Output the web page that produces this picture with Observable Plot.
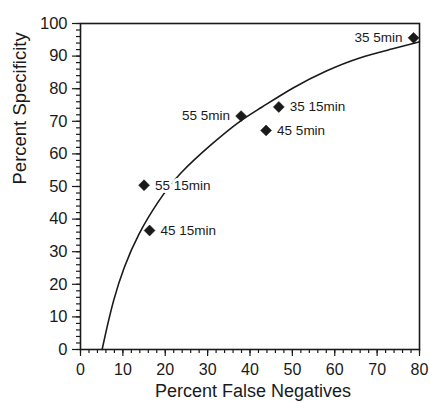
<!DOCTYPE html>
<html>
<head>
<meta charset="utf-8">
<script src="https://cdn.jsdelivr.net/npm/d3@7"></script>
<script src="https://cdn.jsdelivr.net/npm/@observablehq/plot@0.6"></script>
<style>
  html, body { margin: 0; padding: 0; background: #fff; }
</style>
</head>
<body>
<div id="chart"></div>
<script>
// Data points (diamonds)
const labels = ["55 15min", "45 15min", "55 5min", "35 15min", "45 5min", "35 5min"];
const falseNeg = [15, 16.3, 37.9, 46.8, 43.8, 78.6];
const specificity = [50.4, 36.5, 71.6, 74.4, 67.2, 95.6];
const labelSide = ["right", "right", "left", "right", "right", "left"];

// Fitted curve
const curveX = [5.1, 5.9, 7.7, 10.2, 13.6, 18.4, 23.1, 31.4, 37.6, 42.2, 50.2, 58, 65.9, 73.7, 80];
const curveY = [0, 4.8, 15, 25.2, 35.5, 45.7, 53.9, 63.6, 70.2, 73.8, 80.5, 85.6, 89.7, 92.2, 94.4];

// Tick values
const xTicks = [0, 10, 20, 30, 40, 50, 60, 70, 80];
const yTicks = [0, 10, 20, 30, 40, 50, 60, 70, 80, 90, 100];
const xTitle = "Percent False Negatives";
const yTitle = "Percent Specificity";

const points = labels.map((l, i) => ({label: l, x: falseNeg[i], y: specificity[i], side: labelSide[i]}));
const curve = curveX.map((x, i) => ({x, y: curveY[i]}));
const ink = "#1a1a1a";

const chart = Plot.plot({
  width: 430,
  height: 403,
  marginLeft: 80,
  marginRight: 11,
  marginTop: 23,
  marginBottom: 54,
  style: {fontFamily: "'Liberation Sans', Arial, Helvetica, sans-serif", fontSize: "16px", color: ink, background: "#fff"},
  x: {domain: [0, 80]},
  y: {domain: [0, 100]},
  marks: [
    Plot.axisX({ticks: d3.range(0, 81, 2), tickSize: 4, text: null, label: null, stroke: ink, strokeWidth: 1.2}),
    Plot.axisX({ticks: xTicks, tickSize: 7, tickPadding: 7, tickFormat: d => d, label: null, fontSize: 16, stroke: ink, strokeWidth: 1.2}),
    Plot.axisY({ticks: d3.range(0, 101, 2), tickSize: 4, text: null, label: null, stroke: ink, strokeWidth: 1.2}),
    Plot.axisY({ticks: yTicks, tickSize: 8, tickPadding: 5, tickFormat: d => d, label: null, fontSize: 16.5, stroke: ink, strokeWidth: 1.2}),
    Plot.text([xTitle], {text: d => d, frameAnchor: "bottom", dy: 42, dx: 3, lineAnchor: "middle", fontSize: 18, fill: ink}),
    Plot.text([yTitle], {text: d => d, frameAnchor: "left", dx: -60, dy: -2, rotate: -90, lineAnchor: "middle", fontSize: 18.5, fill: ink}),
    Plot.frame({stroke: ink, strokeWidth: 1.6}),
    Plot.line(curve, {x: "x", y: "y", curve: "basis", stroke: ink, strokeWidth: 1.6}),
    Plot.dot(points, {x: "x", y: "y", symbol: "diamond2", r: 4.9, fill: ink, stroke: ink, strokeWidth: 0.6}),
    Plot.text(points.filter(d => d.side === "right"), {x: "x", y: "y", text: "label", textAnchor: "start", dx: 11, fontSize: 13.5, fill: ink, stroke: "white", strokeWidth: 6, strokeLinejoin: "round"}),
    Plot.text(points.filter(d => d.side === "left"), {x: "x", y: "y", text: "label", textAnchor: "end", dx: -11, fontSize: 13.5, fill: ink, stroke: "white", strokeWidth: 6, strokeLinejoin: "round"})
  ]
});
document.getElementById("chart").appendChild(chart);
</script>
</body>
</html>
